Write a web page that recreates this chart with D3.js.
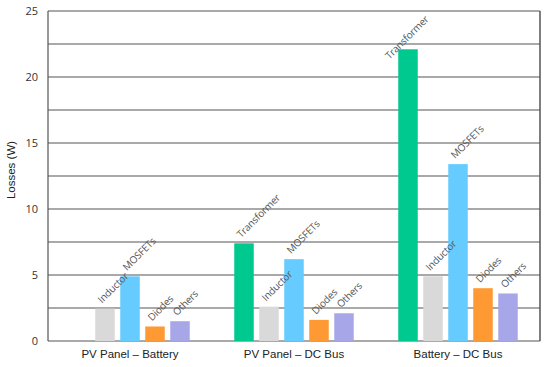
<!DOCTYPE html>
<html><head><meta charset="utf-8">
<script src="https://cdn.jsdelivr.net/npm/d3@7"></script>
<style>body{margin:0;background:#fff}svg{display:block}</style>
</head><body>
<script>
const categories = ["PV Panel \u2013 Battery", "PV Panel \u2013 DC Bus", "Battery \u2013 DC Bus"];
const components = ["Transformer", "Inductor", "MOSFETs", "Diodes", "Others"];
const transformer = [0, 7.4, 22.1];
const inductor = [2.45, 2.6, 4.9];
const mosfets = [4.9, 6.2, 13.4];
const diodes = [1.1, 1.6, 4.0];
const others = [1.5, 2.1, 3.6];
const colors = ["#00C98F", "#D9D9D9", "#66CCFF", "#FF9933", "#A6A6E8"];
const yTicks = [0, 5, 10, 15, 20, 25];
const gridTicks = [2.5, 5, 7.5, 10, 12.5, 15, 17.5, 20, 22.5, 25];

const series = [transformer, inductor, mosfets, diodes, others];
const W = 550, H = 367;
const m = {left: 48, right: 10, top: 11, bottom: 26};
const svg = d3.select("body").append("svg").attr("width", W).attr("height", H);

const x0 = d3.scaleBand().domain(categories).range([m.left, W - m.right]).paddingInner(0).paddingOuter(0);
const x1 = d3.scaleBand().domain(components).range([0, x0.bandwidth()]).paddingInner(0.22).paddingOuter(0.89);
const y = d3.scaleLinear().domain([0, 25]).range([H - m.bottom, m.top]);

// grid
svg.append("g").selectAll("line").data(gridTicks).join("line")
  .attr("x1", m.left).attr("x2", W - m.right)
  .attr("y1", d => y(d)).attr("y2", d => y(d))
  .attr("stroke", "#555").attr("stroke-width", 1.2);

// axes frame
svg.append("line").attr("x1", m.left).attr("x2", m.left).attr("y1", y(25)).attr("y2", y(0)).attr("stroke", "#555").attr("stroke-width", 1.2);
svg.append("line").attr("x1", W - m.right).attr("x2", W - m.right).attr("y1", y(25)).attr("y2", y(0)).attr("stroke", "#555").attr("stroke-width", 1.5);
svg.append("line").attr("x1", m.left).attr("x2", W - m.right).attr("y1", y(0)).attr("y2", y(0)).attr("stroke", "#555").attr("stroke-width", 1.2);

// y axis labels
const yAxis = d3.axisLeft(y).tickValues(yTicks).tickSize(0).tickPadding(10);
const gy = svg.append("g").attr("transform", `translate(${m.left},0)`).call(yAxis);
gy.select(".domain").remove();
gy.selectAll("text").attr("font-family", "Open Sans, sans-serif").attr("font-size", 11).attr("fill", "#333");

// x axis labels
const xAxis = d3.axisBottom(x0).tickSize(0).tickPadding(9);
const gx = svg.append("g").attr("transform", `translate(0,${y(0)})`).call(xAxis);
gx.select(".domain").remove();
gx.selectAll("text").attr("font-family", "Liberation Sans, Arial, sans-serif").attr("font-size", 11.5).attr("fill", "#222");

// y title
svg.append("text").attr("transform", `translate(15,${(y(0)+y(25))/2 - 6}) rotate(-90)`)
  .attr("text-anchor", "middle").attr("font-family", "Liberation Sans, Arial, sans-serif")
  .attr("font-size", 11.5).attr("fill", "#222").text("Losses (W)");

// bars
const data = [];
categories.forEach((c, i) => components.forEach((k, j) => data.push({c, k, j, v: series[j][i]})));
const g = svg.append("g");
g.selectAll("rect").data(data.filter(d => d.v > 0)).join("rect")
  .attr("x", d => x0(d.c) + x1(d.k))
  .attr("width", x1.bandwidth())
  .attr("y", d => y(d.v))
  .attr("height", d => y(0) - y(d.v))
  .attr("fill", d => colors[d.j]);

const labels = g.selectAll("text").data(data.filter(d => d.v > 0)).join("text")
  .attr("font-family", "Open Sans, sans-serif").attr("font-size", 10).attr("letter-spacing", -0.2).attr("fill", "#555")
  .text(d => d.k);
labels.each(function(d) {
  const L = this.getComputedTextLength();
  let px = x0(d.c) + x1(d.k) + x1.bandwidth()/2 - 3;
  let py = y(d.v) - 5;
  const top = py - L * Math.SQRT1_2 - 8;
  if (top < 12) { const s = 12 - top; px -= s; py += s; }
  d3.select(this).attr("transform", `translate(${px},${py}) rotate(-45)`);
});
</script>
</body></html>
